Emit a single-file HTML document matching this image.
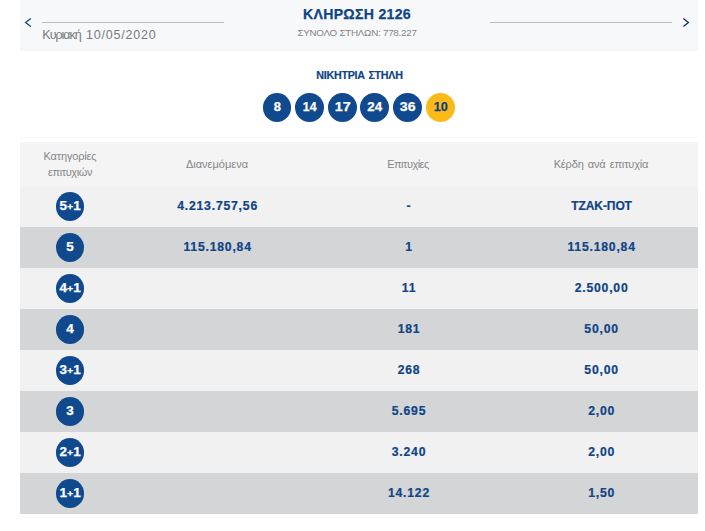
<!DOCTYPE html>
<html lang="el">
<head>
<meta charset="utf-8">
<title>ΚΛΗΡΩΣΗ 2126</title>
<style>
*{box-sizing:border-box;margin:0;padding:0}
html,body{width:705px;height:531px;background:#fff;overflow:hidden}
body{position:relative;font-family:"Liberation Sans",sans-serif;color:#0f4485}
.abs{position:absolute}
.band{left:19.7px;top:0;width:678px;height:51.3px;background:linear-gradient(#f7f8fa 0,#f7f8fa 48.2px,#f6f6f6 48.4px,#f6f6f6 50.6px,#fbfbfb 51.3px)}
.hl{height:1px;background:#bbbcbe;top:22px}
.title{left:200px;width:314px;text-align:center;top:5.2px;-webkit-text-stroke:.25px #0e4688;font-weight:bold;font-size:14.1px;letter-spacing:.3px;line-height:18px;color:#0f4485;white-space:nowrap}
.sub{left:200px;width:314px;text-align:center;top:27px;font-size:9.8px;letter-spacing:-.25px;line-height:12px;color:#828386;white-space:nowrap}
.date{word-spacing:1.6px;left:42.3px;top:28.2px;font-size:12.5px;line-height:14px;color:#77787b;white-space:nowrap}
.win{left:259px;width:200px;text-align:center;top:68px;font-weight:bold;font-size:11.3px;letter-spacing:-.3px;word-spacing:1.1px;-webkit-text-stroke:.2px #0f4485;line-height:14px;color:#0f4485;white-space:nowrap}
.ball{width:28.9px;height:28.9px;border-radius:50%;background:#10498e;color:#fff;font-weight:bold;font-size:12px;line-height:28.9px;text-align:center;top:93px}
.ball span,.cat span{display:inline-block;transform:scaleX(1.16);-webkit-text-stroke:.25px currentColor}
.cat span{transform:translateX(-.4px) scaleX(1.12)}
.cat b{font-size:9.5px}
.ball.y{background:#fcba19;color:#123f7e}
.thead{left:19.8px;top:142.1px;width:678px;height:44px;background:#f4f4f4}
.row{left:19.8px;width:678px;height:41px}
.row.l{background:#f1f1f1}
.row.d{background:#d4d5d7}
.th{font-size:11px;line-height:15px;color:#85868a;text-align:center;white-space:nowrap}
.cat{left:55.9px;width:28.3px;height:28.9px;border-radius:50%;background:#10498e;color:#fff;font-weight:bold;font-size:12px;line-height:28.6px;text-align:center;white-space:nowrap}
.v{font-weight:bold;font-size:12.2px;line-height:16px;text-align:center;color:#0f4485;white-space:nowrap;letter-spacing:.8px;-webkit-text-stroke:.22px #0f4485}
</style>
</head>
<body>
<div class="abs band"></div>
<svg class="abs" style="left:24px;top:17px" width="9" height="11" viewBox="0 0 9 11"><path d="M6.8 1.4 L1.6 5.45 L6.8 9.5" fill="none" stroke="#0f4a8f" stroke-width="1.3"/></svg>
<svg class="abs" style="left:682px;top:17px" width="9" height="11" viewBox="0 0 9 11"><path d="M1.4 1.4 L6.4 5.4 L1.4 9.4" fill="none" stroke="#0e2f6d" stroke-width="1.3"/></svg>
<div class="abs hl" style="left:42px;width:182px"></div>
<div class="abs hl" style="left:490px;width:182px"></div>
<div class="abs date m" id="date"><span id="d1" style="letter-spacing:-1px">Κυριακή</span> <span id="d2" style="letter-spacing:.8px">10/05/2020</span></div>
<div class="abs title"><span id="title">ΚΛΗΡΩΣΗ 2126</span></div>
<div class="abs sub"><span id="sub">ΣΥΝΟΛΟ ΣΤΗΛΩΝ: 778.227</span></div>
<div class="abs win"><span id="win" style="display:inline-block;transform:scaleX(.949)">ΝΙΚΗΤΡΙΑ ΣΤΗΛΗ</span></div>

<div class="abs ball" style="left:262.9px;width:28.3px"><span style="transform:scaleX(1.08)">8</span></div>
<div class="abs ball" style="left:295.1px"><span style="transform:scaleX(1.02)">14</span></div>
<div class="abs ball" style="left:327.9px"><span style="transform:scaleX(1.19)">17</span></div>
<div class="abs ball" style="left:360.1px"><span style="transform:scaleX(1.11)">24</span></div>
<div class="abs ball" style="left:393.0px"><span style="transform:scaleX(1.18)">36</span></div>
<div class="abs ball y" style="left:425.9px"><span style="transform:scaleX(1.05)">10</span></div>

<div class="abs" style="left:19.8px;top:136.7px;width:678px;height:1px;background:#fafafa"></div>
<div class="abs" style="left:19.8px;top:517.4px;width:678px;height:1px;background:#f9f9f9"></div>
<div class="abs thead"></div>
<div class="abs th" style="left:20px;width:100px;top:148.9px;line-height:15.7px"><span id="th1a" style="letter-spacing:-.15px">Κατηγορίες</span><br><span id="th1b" style="letter-spacing:-.4px">επιτυχιών</span></div>
<div class="abs th" style="left:117px;width:200px;top:157px"><span id="th2">Διανεμόμενα</span></div>
<div class="abs th" style="left:308px;width:200px;top:157px"><span id="th3" style="letter-spacing:-.5px">Επιτυχίες</span></div>
<div class="abs th" style="left:501px;width:200px;top:157px"><span id="th4" style="letter-spacing:-.15px;word-spacing:1.2px">Κέρδη ανά επιτυχία</span></div>

<div class="abs row l" style="top:185.9px"></div>
<div class="abs row d" style="top:226.9px"></div>
<div class="abs row l" style="top:267.9px"></div>
<div class="abs row d" style="top:308.9px"></div>
<div class="abs row l" style="top:349.9px"></div>
<div class="abs row d" style="top:390.9px"></div>
<div class="abs row l" style="top:431.9px"></div>
<div class="abs row d" style="top:472.9px"></div>

<div class="abs cat" style="top:191.9px"><span>5<b>+</b>1</span></div>
<div class="abs cat" style="top:232.9px"><span>5</span></div>
<div class="abs cat" style="top:273.9px"><span>4<b>+</b>1</span></div>
<div class="abs cat" style="top:314.9px"><span>4</span></div>
<div class="abs cat" style="top:355.9px"><span>3<b>+</b>1</span></div>
<div class="abs cat" style="top:396.9px"><span>3</span></div>
<div class="abs cat" style="top:437.9px"><span>2<b>+</b>1</span></div>
<div class="abs cat" style="top:478.9px"><span>1<b>+</b>1</span></div>

<div class="abs v" style="left:117.6px;width:200px;top:197.6px"><span id="a1">4.213.757,56</span></div>
<div class="abs v" style="left:117.6px;width:200px;top:238.6px"><span id="a2">115.180,84</span></div>

<div class="abs v" style="left:309px;width:200px;top:197.6px"><span id="b1">-</span></div>
<div class="abs v" style="left:309px;width:200px;top:238.6px"><span id="b2">1</span></div>
<div class="abs v" style="left:309px;width:200px;top:279.6px"><span id="b3">11</span></div>
<div class="abs v" style="left:309px;width:200px;top:320.6px"><span id="b4">181</span></div>
<div class="abs v" style="left:309px;width:200px;top:361.6px"><span id="b5">268</span></div>
<div class="abs v" style="left:309px;width:200px;top:402.6px"><span id="b6">5.695</span></div>
<div class="abs v" style="left:309px;width:200px;top:443.6px"><span id="b7">3.240</span></div>
<div class="abs v" style="left:309px;width:200px;top:484.6px"><span id="b8">14.122</span></div>

<div class="abs v" style="left:501.6px;width:200px;top:197.6px"><span id="c1" style="font-size:12px;letter-spacing:-.1px">ΤΖΑΚ-ΠΟΤ</span></div>
<div class="abs v" style="left:501.6px;width:200px;top:238.6px"><span id="c2">115.180,84</span></div>
<div class="abs v" style="left:501.6px;width:200px;top:279.6px"><span id="c3">2.500,00</span></div>
<div class="abs v" style="left:501.6px;width:200px;top:320.6px"><span id="c4">50,00</span></div>
<div class="abs v" style="left:501.6px;width:200px;top:361.6px"><span id="c5">50,00</span></div>
<div class="abs v" style="left:501.6px;width:200px;top:402.6px"><span id="c6">2,00</span></div>
<div class="abs v" style="left:501.6px;width:200px;top:443.6px"><span id="c7">2,00</span></div>
<div class="abs v" style="left:501.6px;width:200px;top:484.6px"><span id="c8">1,50</span></div>
</body>
</html>
